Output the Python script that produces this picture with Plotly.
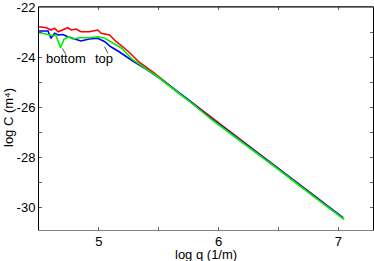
import plotly.graph_objects as go

# top (red)
red_x = [4.5, 4.56, 4.60, 4.63, 4.66, 4.69, 4.74, 4.77, 4.81, 4.85, 4.92, 4.99, 5.02, 5.09,
         5.145, 5.2, 5.25, 5.34, 5.45, 5.56, 5.67, 5.84, 6.07, 6.3, 6.55, 6.8, 7.04]
red_y = [-22.79, -22.83, -22.92, -22.85, -22.99, -22.92, -22.83, -22.92, -22.88, -22.99, -22.99,
         -22.92, -23.05, -23.12, -23.39, -23.59, -23.8, -24.22, -24.6, -25.02, -25.45, -26.05,
         -26.9, -27.75, -28.65, -29.55, -30.45]

blue_x = [4.5, 4.575, 4.6, 4.63, 4.66, 4.70, 4.74, 4.80, 4.85, 4.92, 4.99, 5.05, 5.10, 5.17,
          5.28, 5.4, 5.5, 5.6, 5.75, 5.95, 6.2, 6.5, 6.8, 7.04]
blue_y = [-22.96, -22.96, -23.25, -23.05, -23.12, -23.1, -23.19, -23.28, -23.36, -23.28, -23.25,
          -23.39, -23.59, -23.79, -24.15, -24.5, -24.82, -25.18, -25.72, -26.5, -27.38, -28.47,
          -29.57, -30.43]

green_x = [4.5, 4.575, 4.62, 4.64, 4.68, 4.71, 4.75, 4.78, 4.84, 4.92, 4.99, 5.05, 5.12, 5.19,
           5.28, 5.4, 5.5, 5.6, 5.75, 5.95, 6.2, 6.5, 6.8, 7.05]
green_y = [-23.02, -23.12, -23.15, -23.12, -23.63, -23.28, -23.19, -23.28, -23.23, -23.23, -23.19,
           -23.25, -23.45, -23.65, -24.1, -24.48, -24.82, -25.2, -25.75, -26.53, -27.42, -28.5,
           -29.6, -30.5]

x_ticks = [5, 6, 7]
x_ticklabels = ["5", "6", "7"]
y_ticks = [-30, -28, -26, -24, -22]
y_ticklabels = ["-30", "-28", "-26", "-24", "-22"]

FONT = "Liberation Sans, Arial, sans-serif"
L, R, T, B, W, H = 39, 1, 7, 31, 374, 261
PW, PH = W - L - R, H - T - B

fig = go.Figure()
for xs, ys, c in [(red_x, red_y, "#ff0000"), (blue_x, blue_y, "#0000ff"), (green_x, green_y, "#00ee00")]:
    fig.add_trace(go.Scatter(x=xs, y=ys, mode="lines", line=dict(color=c, width=1.6),
                             showlegend=False, cliponaxis=True))

fig.add_annotation(x=4.725, y=-24.05, text="bottom", showarrow=False, font=dict(size=13, color="black"))
fig.add_annotation(x=5.043, y=-24.04, text="top", showarrow=False, font=dict(size=13, color="black"))
fig.add_shape(type="line", x0=4.695, y0=-23.65, x1=4.7225, y1=-23.88, line=dict(color="#555555", width=1))
fig.add_shape(type="line", x0=5.048, y0=-23.59, x1=5.075, y1=-23.85, line=dict(color="#555555", width=1))

# top frame line in black (bottom axis line is gray)
fig.add_shape(type="line", xref="paper", yref="paper", x0=0, x1=1, y0=1, y1=1,
              line=dict(color="black", width=1))

# axis titles
fig.add_annotation(xref="paper", yref="paper", x=0.5, y=(230 - 254) / PH, text="log q (1/m)",
                   showarrow=False, xanchor="center", yanchor="middle",
                   font=dict(size=13, color="black", family=FONT))
fig.add_annotation(xref="paper", yref="paper", x=(8 - L) / PW, y=(230 - 118) / PH, text="log C (m⁴)",
                   showarrow=False, xanchor="center", yanchor="middle", textangle=-90,
                   font=dict(size=13, color="black", family=FONT))

axis_common = dict(showgrid=False, zeroline=False, showline=True, linewidth=1,
                   mirror="ticks", ticks="inside", ticklen=3, tickcolor="#606060", automargin=False,
                   ticklabeloverflow="allow",
                   tickfont=dict(size=13, color="black", family=FONT))

fig.update_xaxes(range=[4.5, 7.29], tickvals=x_ticks, ticktext=x_ticklabels, linecolor="#808080",
                 ticklabelstandoff=-1,
                 minor=dict(tickvals=[5.5, 6.5], ticks="inside", ticklen=3, tickcolor="#606060"),
                 **axis_common)
fig.update_yaxes(range=[-30.92, -22], tickvals=y_ticks, ticktext=y_ticklabels, linecolor="black",
                 minor=dict(tickvals=[-29, -27, -25, -23], ticks="inside", ticklen=3, tickcolor="#606060"),
                 **axis_common)

fig.update_layout(width=W, height=H, margin=dict(l=L, r=R, t=T, b=B, autoexpand=False),
                  paper_bgcolor="white", plot_bgcolor="white",
                  font=dict(family=FONT, size=13, color="black"))

fig.write_html("out.html", config={"displayModeBar": False},
               post_script="document.body.style.margin='0';document.body.style.padding='0';")
